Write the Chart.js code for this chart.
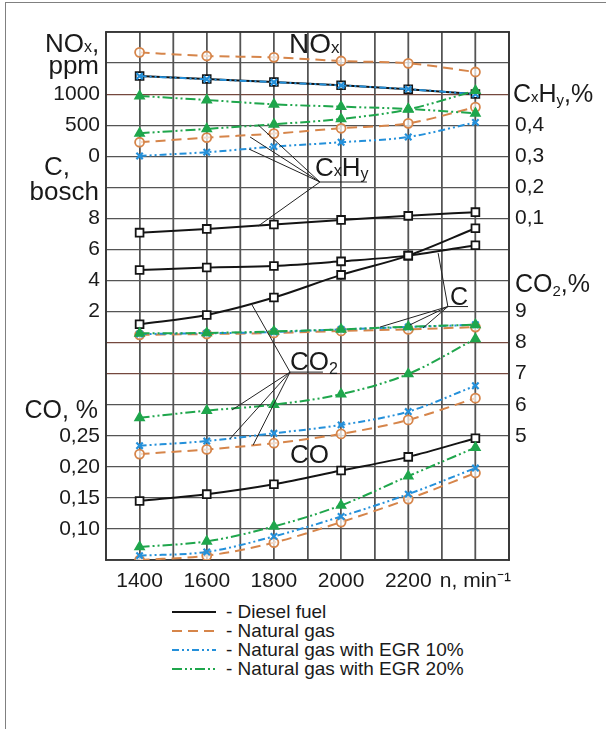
<!DOCTYPE html>
<html>
<head>
<meta charset="utf-8">
<script src="https://cdn.jsdelivr.net/npm/chart.js@4"></script>
<style>
  html, body { margin: 0; background: #fff; overflow: hidden; font-family: "Liberation Sans", Arial, sans-serif; }
  #frame { position: absolute; left: 5px; top: 2px; width: 600px; height: 726px;
           border-left: 1.5px solid #808080; border-top: 1.5px solid #808080; }
  #wrap { position: absolute; left: 0; top: 0; width: 607px; height: 600px; }
  #legend { position: absolute; left: 172px; top: 602px; font-size: 19px; color: #1a1a1a; }
  #legend div { height: 19px; display: flex; align-items: center; white-space: nowrap; }
  #legend svg { margin-right: 10px; }
</style>
</head>
<body>
<div id="frame"></div>
<div id="wrap"><canvas id="myChart" width="607" height="600"></canvas></div>
<div id="legend"></div>
<script>
const FONT = '"Liberation Sans", Arial, sans-serif';
const INK = '#1a1a1a';

const rpm = [1400, 1600, 1800, 2000, 2200, 2400];
const xTicks = [1400, 1600, 1800, 2000, 2200];
const xUnit = 'n, min⁻¹';

// NOx, ppm
const noxDiesel = [1292, 1243, 1195, 1142, 1078, 1002];
const noxGas    = [1672, 1614, 1592, 1533, 1496, 1356];
const noxEgr10  = [1290, 1240, 1192, 1140, 1080, 1000];
const noxEgr20  = [970, 905, 836, 798, 761, 691];
// CxHy, %
const hcDiesel = [0.054, 0.066, 0.080, 0.095, 0.108, 0.120];
const hcGas    = [0.345, 0.360, 0.373, 0.390, 0.406, 0.458];
const hcEgr10  = [0.301, 0.313, 0.331, 0.345, 0.362, 0.409];
const hcEgr20  = [0.374, 0.388, 0.403, 0.420, 0.451, 0.511];
// C, bosch
const sootDiesel = [4.67, 4.84, 4.93, 5.23, 5.60, 6.27];
const sootGas    = [0.50, 0.55, 0.62, 0.75, 0.85, 1.00];
const sootEgr10  = [0.55, 0.60, 0.68, 0.85, 1.00, 1.15];
const sootEgr20  = [0.60, 0.62, 0.72, 0.85, 1.02, 1.15];
// CO2, %
const co2Diesel = [8.59, 8.89, 9.45, 10.18, 10.80, 11.68];
const co2Gas    = [4.41, 4.56, 4.76, 5.06, 5.51, 6.21];
const co2Egr10  = [4.68, 4.83, 5.08, 5.35, 5.78, 6.61];
const co2Egr20  = [5.58, 5.81, 6.00, 6.34, 6.99, 8.12];
// CO, %
const coDiesel = [0.145, 0.156, 0.172, 0.194, 0.216, 0.246];
const coGas    = [0.050, 0.057, 0.078, 0.111, 0.148, 0.190];
const coEgr10  = [0.057, 0.063, 0.088, 0.120, 0.156, 0.198];
const coEgr20  = [0.071, 0.080, 0.104, 0.138, 0.185, 0.231];

// tick labels per grid row (row 0 = top line)
const leftTicks  = ['', '', '1000', '500', '0', '', '8', '6', '4', '2', '', '', '', '0,25', '0,20', '0,15', '0,10', ''];
const rightTicks = ['', '', '', '0,4', '0,3', '0,2', '0,1', '', '', '9', '8', '7', '6', '5', '', '', '', ''];
const brownRows = [2, 10, 11];

const fuels = [
  { name: 'Diesel fuel', color: '#141414', dash: [], point: 'rect', radius: 5.5, fill: '#fff', order: 4 },
  { name: 'Natural gas', color: '#d6854a', dash: [10, 6], point: 'circle', radius: 4.5, fill: 'rgba(255,255,255,0.7)', order: 3 },
  { name: 'Natural gas with EGR 10%', color: '#2490da', dash: [7, 3, 2, 3, 2, 3], point: 'crossRot', radius: 4.5, fill: '#2490da', order: 2 },
  { name: 'Natural gas with EGR 20%', color: '#1fa64c', dash: [10, 3, 2, 3, 2, 3], point: 'triangle', radius: 5, fill: '#1fa64c', order: 1 },
];

const series = [
  ['nox', [noxDiesel, noxGas, noxEgr10, noxEgr20]],
  ['hc', [hcDiesel, hcGas, hcEgr10, hcEgr20]],
  ['soot', [sootDiesel, sootGas, sootEgr10, sootEgr20]],
  ['co2', [co2Diesel, co2Gas, co2Egr10, co2Egr20]],
  ['co', [coDiesel, coGas, coEgr10, coEgr20]],
];

const datasets = [];
series.forEach(([axis, lists]) => {
  lists.forEach((vals, f) => {
    const fu = fuels[f];
    datasets.push({
      label: fu.name + ' ' + axis,
      data: rpm.map((x, i) => ({ x: x, y: vals[i] })),
      yAxisID: axis,
      borderColor: fu.color,
      borderDash: fu.dash,
      borderWidth: 2,
      pointStyle: fu.point,
      pointRadius: fu.radius,
      pointBorderColor: fu.color,
      pointBackgroundColor: fu.fill,
      pointBorderWidth: f === 2 ? 2.2 : 1.8,
      cubicInterpolationMode: 'monotone',
      fill: false,
      order: fu.order,
    });
  });
});

// draws a label made of pieces [text, size, dy]
function rich(ctx, x, y, parts, align) {
  let w = 0;
  parts.forEach(p => { ctx.font = p[1] + 'px ' + FONT; w += ctx.measureText(p[0]).width; });
  let cx = align === 'right' ? x - w : x;
  parts.forEach(p => {
    ctx.font = p[1] + 'px ' + FONT;
    ctx.fillText(p[0], cx, y + (p[2] || 0));
    cx += ctx.measureText(p[0]).width;
  });
}

// leader lines: vertex, underline end, targets (rpm, grid row)
const leaders = [
  { v: [1937, 4.83], end: 2077, to: [[1753, 2.99], [1729, 3.38], [1726, 3.77], [1753, 6.25]] },
  { v: [2318, 8.84], end: 2378, to: [[2289, 7.12], [2116, 9.50], [2205, 9.43], [2244, 9.53]] },
  { v: [1848, 10.95], end: 1946, to: [[1735, 8.79], [1675, 12.17], [1669, 13.10], [1738, 13.30]] },
];

// vertical grid lines and frame, from the x scale ticks
const vgridPlugin = {
  id: 'vgrid',
  beforeDatasetsDraw(chart) {
    const ctx = chart.ctx, xs = chart.scales.x, ys = chart.scales.y;
    const top = ys.getPixelForValue(0), bottom = ys.getPixelForValue(17);
    ctx.save();
    ctx.setLineDash([]);
    ctx.fillStyle = '#555';
    xs.ticks.forEach(t => {
      const px = Math.round(xs.getPixelForValue(t.value));
      ctx.fillRect(px - 0.6, top, 1.3, bottom - top);
    });
    ctx.fillStyle = '#333';
    const l = Math.round(xs.getPixelForValue(1300)), r = Math.round(xs.getPixelForValue(2500));
    ctx.fillRect(l - 0.8, top - 0.8, 1.7, bottom - top + 1.6);
    ctx.fillRect(r - 0.8, top - 0.8, 1.7, bottom - top + 1.6);
    ctx.fillRect(l - 0.8, top - 0.8, r - l + 1.6, 1.7);
    ctx.fillRect(l - 0.8, bottom - 0.8, r - l + 1.6, 1.7);
    ctx.restore();
  }
};

const labelsPlugin = {
  id: 'labels',
  afterDraw(chart) {
    const ctx = chart.ctx;
    const X = v => chart.scales.x.getPixelForValue(v);
    const Y = r => chart.scales.y.getPixelForValue(r);
    ctx.save();
    ctx.setLineDash([]);
    ctx.fillStyle = INK;
    ctx.textBaseline = 'alphabetic';
    ctx.textAlign = 'left';
    // axis titles
    rich(ctx, 45, Y(0.65), [['NO', 26], ['x', 16], [',', 26]]);
    rich(ctx, 99, Y(1.35), [['ppm', 26]], 'right');
    rich(ctx, 44, Y(4.6), [['C,', 26]]);
    rich(ctx, 99, Y(5.41), [['bosch', 26]], 'right');
    rich(ctx, 98, Y(12.43), [['CO, %', 25]], 'right');
    rich(ctx, 513, Y(2.25), [['C', 25], ['x', 15], ['H', 25], ['y', 15, 3], [',%', 25]]);
    rich(ctx, 515, Y(8.37), [['CO', 25], ['2', 15, 4], [',%', 25]]);
    // curve labels
    rich(ctx, X(1845), Y(0.68), [['NO', 28], ['x', 17]]);
    rich(ctx, X(1922), Y(4.64), [['C', 26], ['x', 16], ['H', 26], ['y', 16, 3]]);
    rich(ctx, X(2324), Y(8.79), [['C', 25]]);
    rich(ctx, X(1848), Y(10.88), [['CO', 26], ['2', 16, 4]]);
    rich(ctx, X(1848), Y(13.88), [['CO', 26]]);
    // leaders
    ctx.strokeStyle = '#222';
    ctx.lineWidth = 1;
    leaders.forEach(l => {
      ctx.beginPath();
      ctx.moveTo(X(l.v[0]), Y(l.v[1]));
      ctx.lineTo(X(l.end), Y(l.v[1]));
      l.to.forEach(t => {
        ctx.moveTo(X(l.v[0]), Y(l.v[1]));
        ctx.lineTo(X(t[0]), Y(t[1]));
      });
      ctx.stroke();
    });
    ctx.restore();
  }
};

const gridColor = c => brownRows.includes(c.tick && c.tick.value) ? '#75483e' : '#555';

new Chart(document.getElementById('myChart').getContext('2d'), {
  type: 'line',
  data: { datasets: datasets },
  options: {
    responsive: false,
    animation: false,
    events: [],
    layout: { padding: { left: 6, right: 8, top: 32, bottom: 0 } },
    plugins: { legend: { display: false }, tooltip: { enabled: false } },
    scales: {
      x: {
        type: 'linear', min: 1300, max: 2500,
        ticks: {
          stepSize: 100, autoSkip: false, maxRotation: 0, padding: 9,
          color: INK, font: { family: FONT, size: 21 },
          callback: v => v === 2400 ? xUnit : (xTicks.includes(v) ? String(v) : ''),
        },
        grid: { color: '#555', lineWidth: 1.2, drawTicks: false },
        border: { display: false },
        afterFit: s => { s.height = 40; },
      },
      y: {
        type: 'linear', position: 'left', reverse: true, min: 0, max: 17,
        ticks: {
          stepSize: 1, autoSkip: false, padding: 6,
          color: INK, font: { family: FONT, size: 21 },
          callback: v => leftTicks[v] || '',
        },
        grid: { color: gridColor, lineWidth: 1.2, drawTicks: false },
        border: { display: false },
        afterFit: s => { s.width = 100; },
      },
      yR: {
        type: 'linear', axis: 'y', position: 'right', reverse: true, min: 0, max: 17,
        ticks: {
          stepSize: 1, autoSkip: false, padding: 6,
          color: INK, font: { family: FONT, size: 21 },
          callback: v => rightTicks[v] || '',
        },
        grid: { display: false, drawTicks: false },
        border: { display: false },
        afterFit: s => { s.width = 90; },
      },
      nox:  { type: 'linear', axis: 'y', display: false, min: -6500, max: 2000 },
      hc:   { type: 'linear', axis: 'y', display: false, min: -1.0, max: 0.7 },
      soot: { type: 'linear', axis: 'y', display: false, min: -14, max: 20 },
      co2:  { type: 'linear', axis: 'y', display: false, min: 1, max: 18 },
      co:   { type: 'linear', axis: 'y', display: false, min: 0.05, max: 0.9 },
    },
  },
  plugins: [vgridPlugin, labelsPlugin],
});

// legend
const legendBox = document.getElementById('legend');
fuels.forEach(f => {
  const row = document.createElement('div');
  const dash = f.dash.length ? f.dash.join(' ') : 'none';
  row.innerHTML = '<svg width="44" height="6"><line x1="0" y1="3" x2="44" y2="3" stroke="' + f.color +
    '" stroke-width="2" stroke-dasharray="' + dash + '"/></svg><span>- ' + f.name + '</span>';
  legendBox.appendChild(row);
});
</script>
</body>
</html>
